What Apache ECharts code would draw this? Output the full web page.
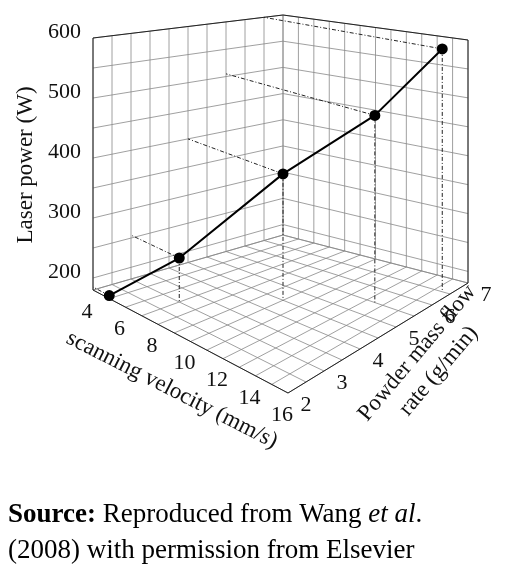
<!DOCTYPE html>
<html>
<head>
<meta charset="utf-8">
<script src="https://cdn.jsdelivr.net/npm/echarts@6/dist/echarts.min.js"></script>
<style>body{margin:0;background:#fff}#main{width:520px;height:570px}</style>
</head>
<body>
<div id="main"></div>
<script>
// data
var velocity = [5, 7, 10, 13.5, 15.5];   // mm/s
var powder = [2, 3, 4.5, 5.5, 6.5];      // g/min
var power = [185, 255, 400, 505, 600];   // W
var velTicks = [4, 6, 8, 10, 12, 14, 16];
var powTicks = [2, 3, 4, 5, 6, 7];
var zTicks = [200, 300, 400, 500, 600];

var V0 = 4, V1 = 16, P0 = 2, P1 = 7, Z0 = 180, Z1 = 600;
// box corners on screen (left, front, back, right) and wall heights
var L = [93, 290], F = [288, 393], B = [283, 235], R = [468, 283];
var hL = 252, hF = 250, hB = 220, hR = 243;

function proj(u, w, h) {
    var a = (1 - u) * (1 - w), b = u * (1 - w), c = (1 - u) * w, d = u * w;
    var x = a * L[0] + b * F[0] + c * B[0] + d * R[0];
    var y = a * L[1] + b * F[1] + c * B[1] + d * R[1];
    var hh = a * hL + b * hF + c * hB + d * hR;
    return [x, y - h * hh];
}
function nu(v) { return (v - V0) / (V1 - V0); }
function nw(p) { return (p - P0) / (P1 - P0); }
function nh(z) { return (z - Z0) / (Z1 - Z0); }

var myChart = echarts.init(document.getElementById('main'));

function line(api, a, b, style) {
    var p = api.coord(a), q = api.coord(b);
    return { type: 'line', shape: { x1: p[0], y1: p[1], x2: q[0], y2: q[1] }, style: style };
}

function renderBox(params, api) {
    var ch = [];
    var thin = { stroke: '#888', lineWidth: 0.8 };
    var edge = { stroke: '#222', lineWidth: 1 };
    var i, t;
    // floor
    for (i = 0; i <= 12; i++) { t = i / 12; ch.push(line(api, proj(t, 0, 0), proj(t, 1, 0), thin)); }
    for (i = 0; i <= 10; i++) { t = i / 10; ch.push(line(api, proj(0, t, 0), proj(1, t, 0), thin)); }
    // left wall (u=0) and back wall (w=1)
    for (i = 0; i <= 10; i++) { t = i / 10; ch.push(line(api, proj(0, t, 0), proj(0, t, 1), thin)); }
    for (i = 0; i <= 12; i++) { t = i / 12; ch.push(line(api, proj(t, 1, 0), proj(t, 1, 1), thin)); }
    var zs = [Z0];
    for (var z = 200; z <= 600; z += 50) zs.push(z);
    zs.forEach(function (z) {
        var h = nh(z);
        ch.push(line(api, proj(0, 0, h), proj(0, 1, h), thin));
        ch.push(line(api, proj(0, 1, h), proj(1, 1, h), thin));
    });
    // outer edges
    ch.push(line(api, proj(0, 0, 0), proj(1, 0, 0), edge));
    ch.push(line(api, proj(1, 0, 0), proj(1, 1, 0), edge));
    ch.push(line(api, proj(0, 0, 0), proj(0, 0, 1), edge));
    ch.push(line(api, proj(1, 1, 0), proj(1, 1, 1), edge));
    ch.push(line(api, proj(0, 0, 1), proj(0, 1, 1), edge));
    ch.push(line(api, proj(0, 1, 1), proj(1, 1, 1), edge));
    // drop lines
    var dash = { stroke: '#222', lineWidth: 1, lineDash: [4, 2, 1, 2] };
    for (i = 0; i < velocity.length; i++) {
        var u = nu(velocity[i]), w = nw(powder[i]), h = nh(power[i]);
        ch.push(line(api, proj(u, w, h), proj(u, w, 0), dash));
        ch.push(line(api, proj(u, w, h), proj(0, w, h), dash));
    }
    // tick labels
    var font = '22px "Liberation Serif"';
    zTicks.forEach(function (z) {
        var p = api.coord(proj(0, 0, nh(z)));
        ch.push({ type: 'text', x: p[0] - 12, y: p[1] - 6, style: { text: String(z), font: font, fill: '#111', align: 'right', verticalAlign: 'middle' } });
    });
    velTicks.forEach(function (v) {
        var p = api.coord(proj(nu(v), 0, 0));
        ch.push({ type: 'text', x: p[0] - 6, y: p[1] + 22, style: { text: String(v), font: font, fill: '#111', align: 'center', verticalAlign: 'middle' } });
    });
    powTicks.forEach(function (v) {
        var p = api.coord(proj(1, nw(v), 0));
        ch.push({ type: 'text', x: p[0] + 18, y: p[1] + 12, style: { text: String(v), font: font, fill: '#111', align: 'center', verticalAlign: 'middle' } });
    });
    return { type: 'group', children: ch };
}

var pts = velocity.map(function (v, i) { return proj(nu(v), nw(powder[i]), nh(power[i])); });

var option = {
    animation: false,
    grid: { left: 0, right: 0, top: 0, bottom: 0 },
    xAxis: { type: 'value', min: 0, max: 520, show: false },
    yAxis: { type: 'value', min: 0, max: 570, inverse: true, show: false },
    series: [{
        type: 'custom',
        renderItem: renderBox,
        data: [0],
        silent: true
    }, {
        type: 'line',
        data: pts,
        symbol: 'circle',
        symbolSize: 11,
        itemStyle: { color: '#000' },
        lineStyle: { color: '#000', width: 2 },
        z: 5
    }],
    graphic: [
        { type: 'text', x: 26, y: 165, rotation: Math.PI / 2, style: { text: 'Laser power (W)', font: '23px "Liberation Serif"', fill: '#111', align: 'center', verticalAlign: 'middle' } },
        { type: 'text', x: 172, y: 390, rotation: -27 * Math.PI / 180, style: { text: 'scanning velocity (mm/s)', font: '23px "Liberation Serif"', fill: '#111', align: 'center', verticalAlign: 'middle' } },
        { type: 'text', x: 428, y: 362, rotation: 50 * Math.PI / 180, style: { text: 'Powder mass flow\nrate (g/min)', font: '23px "Liberation Serif"', fill: '#111', align: 'center', verticalAlign: 'middle', lineHeight: 28 } },
        { type: 'text', x: 8, y: 497, style: {
            text: '{b|Source:} Reproduced from Wang {i|et al}.\n(2008) with permission from Elsevier',
            font: '27px "Liberation Serif"', fill: '#000', lineHeight: 36,
            rich: { b: { fontWeight: 'bold', fontSize: 27, fontFamily: 'Liberation Serif' }, i: { fontStyle: 'italic', fontSize: 27, fontFamily: 'Liberation Serif' } }
        } }
    ]
};
myChart.setOption(option);
</script>
</body>
</html>
